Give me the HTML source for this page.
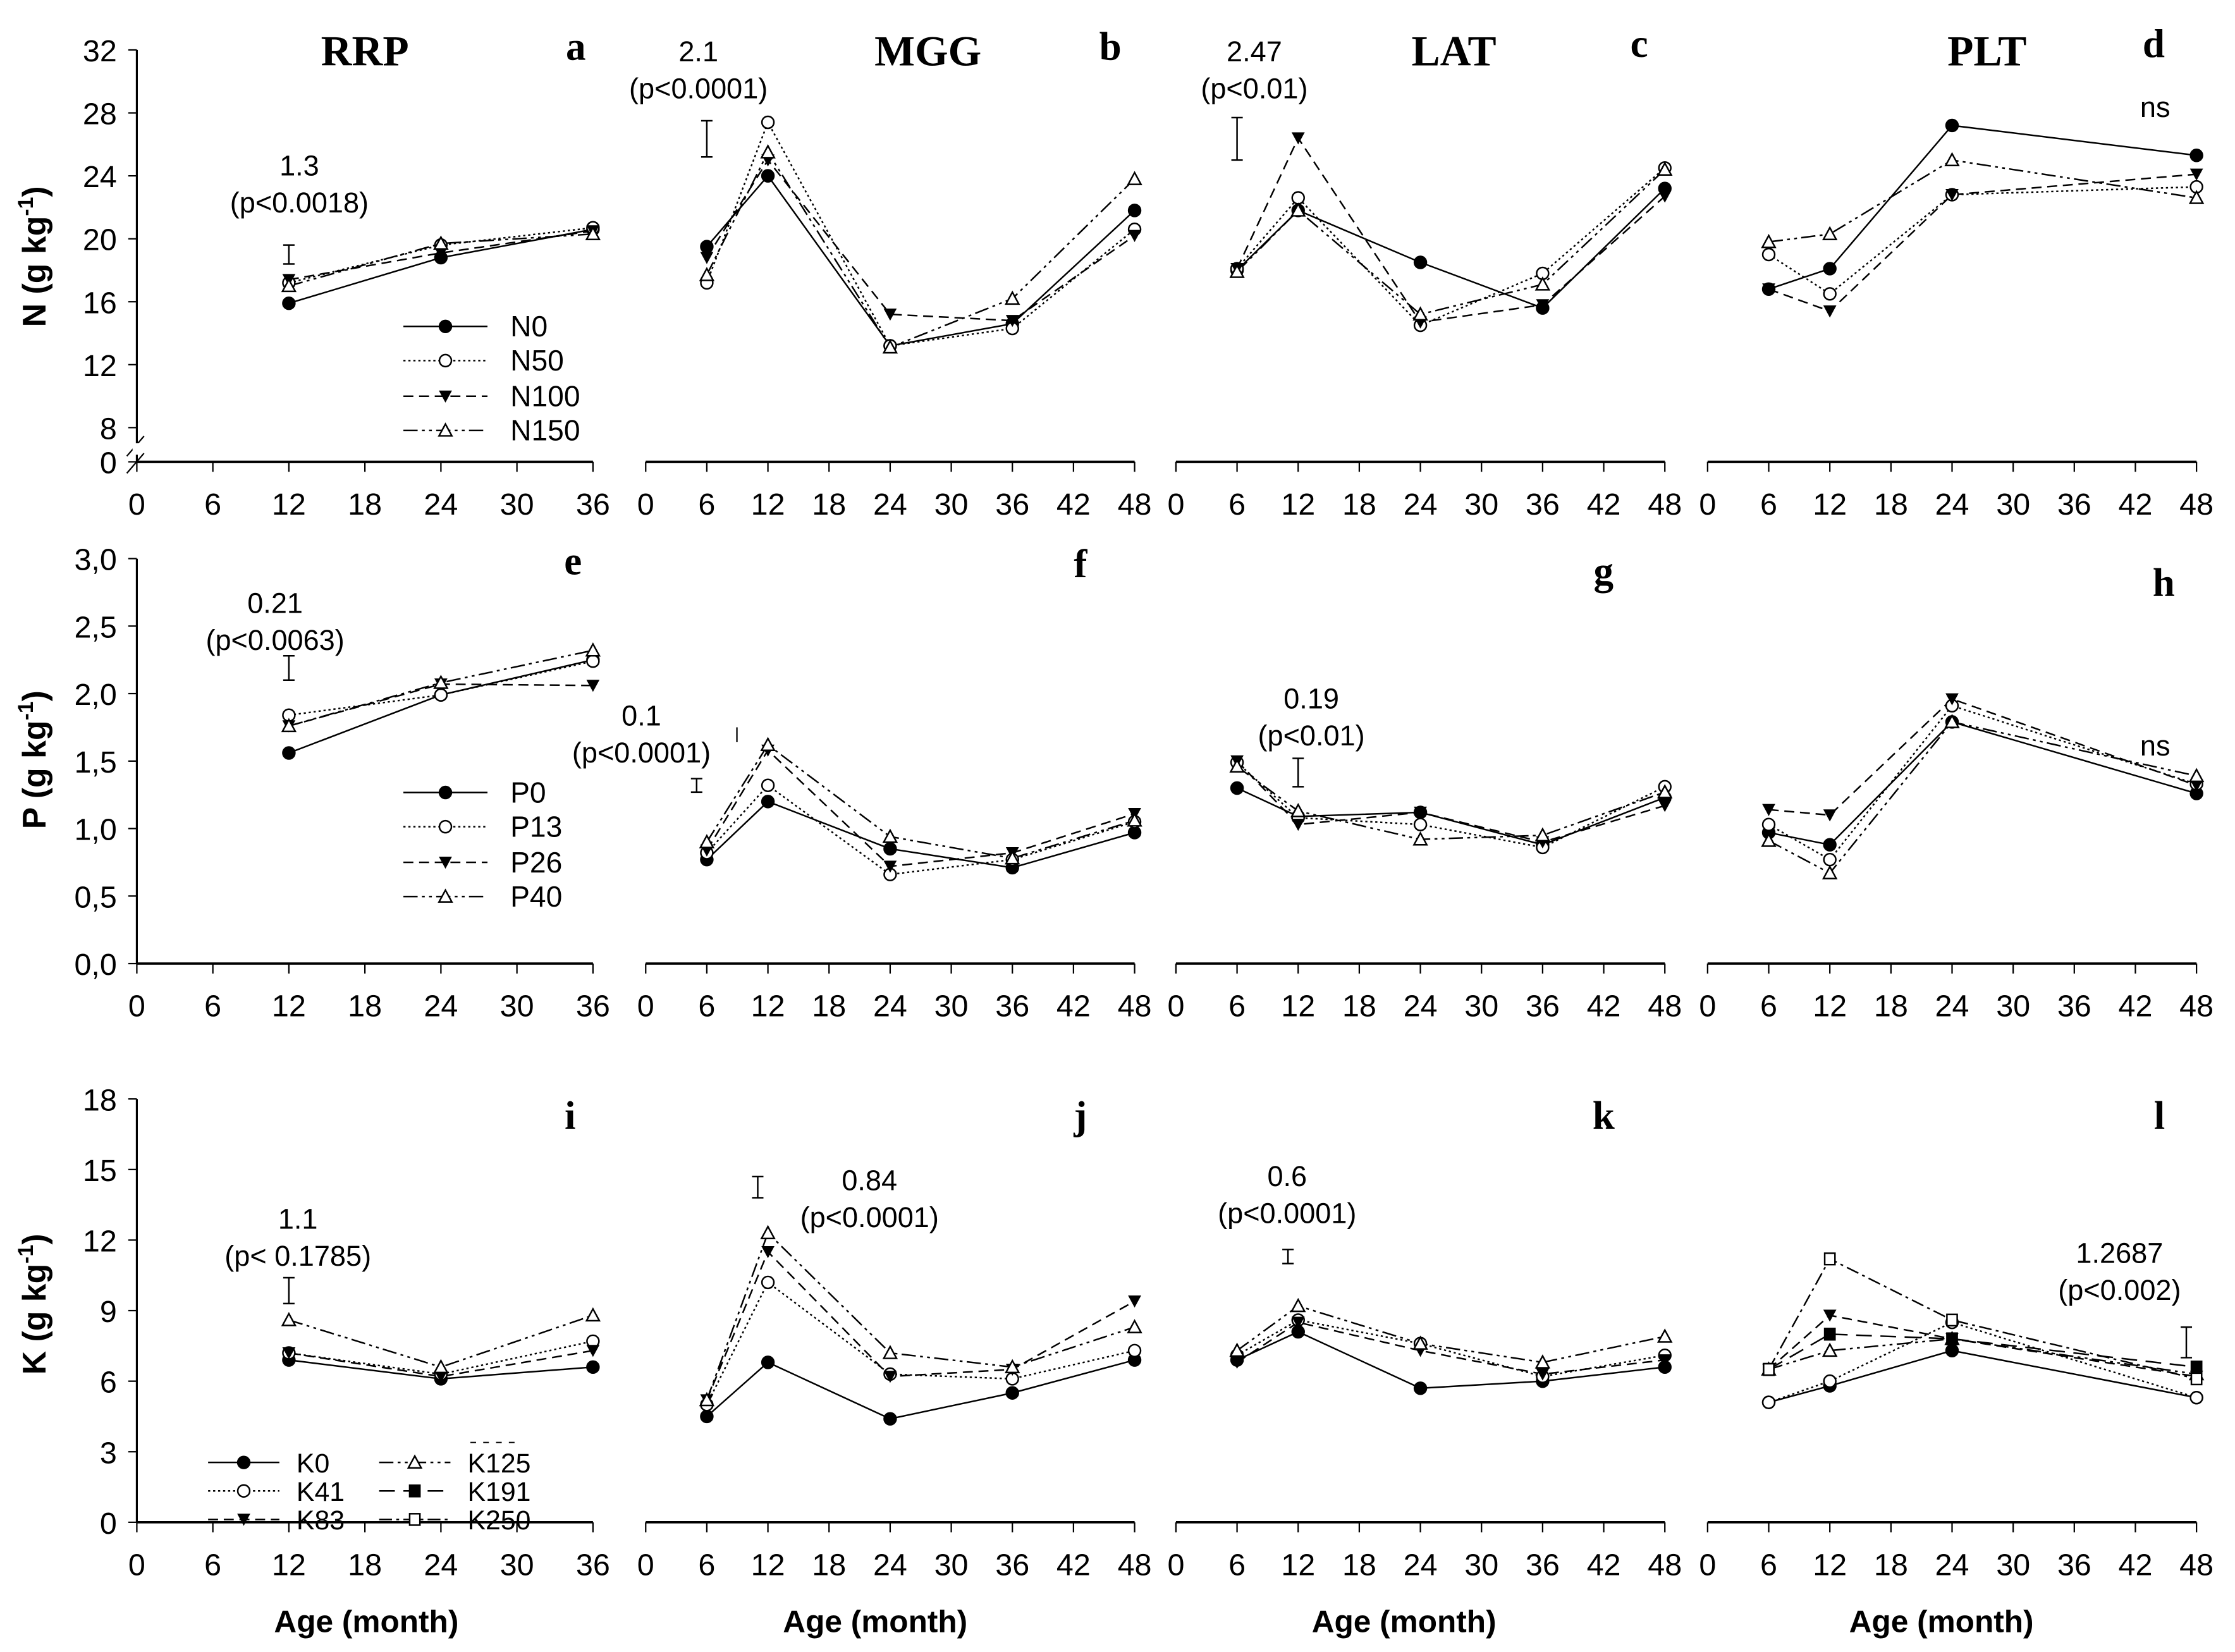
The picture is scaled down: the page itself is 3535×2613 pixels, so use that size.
<!DOCTYPE html>
<html><head><meta charset="utf-8"><style>
html,body{margin:0;padding:0;background:#fff}
svg{display:block}
text{font-family:"Liberation Sans",Arial,sans-serif;fill:#000}
.ser{font-family:"Liberation Serif",serif;font-weight:bold}
</style></head><body>
<svg id="chart" xmlns="http://www.w3.org/2000/svg" width="3535" height="2613" viewBox="0 0 1568 1159" preserveAspectRatio="none">
<g id="static">
<text x="32" y="180" font-size="23" font-weight="bold" text-anchor="middle" transform="rotate(-90 32 180)">N (g kg<tspan font-size="15" dy="-9">-1</tspan><tspan dy="9">)</tspan></text>
<text x="32" y="533" font-size="23" font-weight="bold" text-anchor="middle" transform="rotate(-90 32 533)">P (g kg<tspan font-size="15" dy="-9">-1</tspan><tspan dy="9">)</tspan></text>
<text x="32" y="915" font-size="23" font-weight="bold" text-anchor="middle" transform="rotate(-90 32 915)">K (g kg<tspan font-size="15" dy="-9">-1</tspan><tspan dy="9">)</tspan></text>
<text class="ser" x="256" y="46" font-size="30" text-anchor="middle">RRP</text>
<text class="ser" x="651" y="46" font-size="30" text-anchor="middle">MGG</text>
<text class="ser" x="1020" y="46" font-size="30" text-anchor="middle">LAT</text>
<text class="ser" x="1394" y="46" font-size="30" text-anchor="middle">PLT</text>
</g>
<g id="plots"></g>
</svg>
<script>
// ---- data ----
const monthsA = [12, 24, 36];
const monthsB = [6, 12, 24, 36, 48];
const monthsD = [6, 12, 24, 48];
const nTicks = [0, 8, 12, 16, 20, 24, 28, 32];
const pTicks = ["0,0","0,5","1,0","1,5","2,0","2,5","3,0"];
const kTicks = [0, 3, 6, 9, 12, 15, 18];
// N
const aN0=[15.9,18.8,20.6], aN50=[17.2,19.6,20.7], aN100=[17.4,19.1,20.5], aN150=[17.0,19.7,20.3];
const bN0=[19.5,24.0,13.2,14.6,21.8], bN50=[17.2,27.4,13.2,14.3,20.6], bN100=[18.8,25.0,15.2,14.8,20.2], bN150=[17.7,25.5,13.1,16.2,23.8];
const cN0=[18.0,21.8,18.5,15.6,23.2], cN50=[18.1,22.6,14.5,17.8,24.5], cN100=[18.1,26.4,14.7,15.8,22.7], cN150=[17.9,21.8,15.2,17.1,24.4];
const dN0=[16.8,18.1,27.2,25.3], dN50=[19.0,16.5,22.8,23.3], dN100=[16.8,15.4,22.8,24.1], dN150=[19.8,20.3,25.0,22.6];
// P
const eP0=[1.56,1.99,2.25], eP13=[1.84,1.99,2.24], eP26=[1.76,2.07,2.06], eP40=[1.76,2.08,2.32];
const fP0=[0.77,1.20,0.85,0.71,0.97], fP13=[0.82,1.32,0.66,0.77,1.05], fP26=[0.84,1.58,0.72,0.82,1.11], fP40=[0.90,1.62,0.94,0.78,1.06];
const gP0=[1.30,1.09,1.12,0.88,1.23], gP13=[1.49,1.08,1.03,0.86,1.31], gP26=[1.50,1.03,1.12,0.90,1.17], gP40=[1.46,1.13,0.92,0.95,1.27];
const hP0=[0.97,0.88,1.79,1.26], hP13=[1.03,0.77,1.91,1.33], hP26=[1.14,1.10,1.96,1.32], hP40=[0.91,0.67,1.79,1.39];
// K
const iK0=[6.9,6.1,6.6], iK41=[7.2,6.3,7.7], iK83=[7.2,6.2,7.3], iK125=[8.6,6.6,8.8];
const jK0=[4.5,6.8,4.4,5.5,6.9], jK41=[5.0,10.2,6.3,6.1,7.3], jK83=[5.2,11.5,6.2,6.5,9.4], jK125=[5.2,12.3,7.2,6.6,8.3];
const kK0=[6.9,8.1,5.7,6.0,6.6], kK41=[7.1,8.6,7.6,6.2,7.1], kK83=[6.8,8.5,7.3,6.3,6.9], kK125=[7.3,9.2,7.6,6.8,7.9];
const lK0=[5.1,5.8,7.3,5.3], lK41=[5.1,6.0,8.5,5.3], lK83=[6.5,8.8,7.8,6.2], lK125=[6.5,7.3,7.8,6.3], lK191=[6.5,8.0,7.8,6.6], lK250=[6.5,11.2,8.6,6.1];
// error bars [month, low, high]
const errA=[12,18.4,19.6], errB=[6,25.2,27.5], errC=[6,25.0,27.7];
const errE=[12,2.10,2.28], errF=[5,1.27,1.37], errG=[12,1.31,1.52];
const errI=[12,9.3,10.4], errJ=[11,13.8,14.7], errK=[11,11.0,11.6], errL=[47,7.0,8.3];

const NS="http://www.w3.org/2000/svg";
const root=document.getElementById('plots');
function mk(tag,attrs,parent){const e=document.createElementNS(NS,tag);for(const k in attrs)e.setAttribute(k,attrs[k]);(parent||root).appendChild(e);return e;}

const styles={
 s0:{dash:'',mk:'fcirc'}, s1:{dash:'1.5,2',mk:'ocirc'}, s2:{dash:'7,4',mk:'ftri'}, s3:{dash:'10,3,2,3,2,3',mk:'otri'},
 s4:{dash:'11,6',mk:'fsq'}, s5:{dash:'9,3,2,3',mk:'osq'}
};
const rows={
 N:{y:v=>v<8?324-v*3:300-(v-8)*11.04, axisY:324},
 P:{y:v=>676-v*94.7, axisY:676},
 K:{y:v=>1068-v*16.5, axisY:1068}
};
const cols=[{x0:96,x1:416,max:36},{x0:453,x1:796,max:48},{x0:825,x1:1168,max:48},{x0:1198,x1:1541,max:48}];

function marker(g,type,x,y){
 let e;
 if(type==='fcirc'||type==='ocirc'){e=mk('circle',{cx:x,cy:y,r:4.2,fill:type==='fcirc'?'#000':'#fff',stroke:'#000','stroke-width':1.1},g);}
 else if(type==='ftri'){e=mk('path',{d:`M${x-4.6},${y-4} L${x+4.6},${y-4} L${x},${y+4.5} Z`,fill:'#000'},g);}
 else if(type==='otri'){e=mk('path',{d:`M${x-4.5},${y+3.8} L${x+4.5},${y+3.8} L${x},${y-4.5} Z`,fill:'#fff',stroke:'#000','stroke-width':1.1},g);}
 else {e=mk('rect',{x:x-3.6,y:y-4,width:7.2,height:8,fill:type==='fsq'?'#000':'#fff',stroke:'#000','stroke-width':1.1},g);}
 
 
}

function panel(name,col,row,months,series,err,opts){
 const c=cols[col], R=rows[row];
 const xs=m=>c.x0+(m/c.max)*(c.x1-c.x0);
 const g=mk('g',{});
 
 
 const ax=mk('line',{x1:c.x0,x2:c.x1,y1:R.axisY,y2:R.axisY,stroke:'#000','stroke-width':1.6},g);
 
 
 for(let m=0;m<=c.max;m+=6){
  const t=mk('line',{x1:xs(m),x2:xs(m),y1:R.axisY,y2:R.axisY+7,stroke:'#000','stroke-width':1},g);
  
  
  const tl=mk('text',{x:xs(m),y:R.axisY+37,'font-size':21.5,'text-anchor':'middle'},g);
  tl.textContent=m;
  
  
 }
 series.forEach((vals,si)=>{
  const st=styles['s'+si];
  const pts=vals.map((v,i)=>xs(months[i])+','+R.y(v)).join(' ');
  const pl=mk('polyline',{points:pts,fill:'none',stroke:'#000','stroke-width':1.1,'stroke-dasharray':st.dash},g);
  
  
 });
 series.forEach((vals,si)=>{vals.forEach((v,i)=>marker(g,styles['s'+si].mk,xs(months[i]),R.y(v)));});
 if(err){
  const x=xs(err[0]),y1=R.y(err[1]),y2=R.y(err[2]);
  const eb=mk('path',{d:`M${x},${y1}V${y2}M${x-4},${y1}H${x+4}M${x-4},${y2}H${x+4}`,stroke:'#000','stroke-width':1.1,fill:'none'},g);
  
  
 }
 if(opts.lsd){
  const t1=mk('text',{x:opts.lsd[0],y:opts.lsd[1],'font-size':20,'text-anchor':'middle'},g);
  t1.textContent=opts.lsd[2];
  
  
  if(opts.lsd[3]){const t2=mk('text',{x:opts.lsd[0],y:opts.lsd[1]+26,'font-size':20,'text-anchor':'middle'},g);
  t2.textContent=opts.lsd[3];
  
  }
 }
 const lt=mk('text',{x:opts.letter[0],y:opts.letter[1],'font-size':28,'text-anchor':'middle',class:'ser'},g);
 lt.textContent=name;
 
 
 return g;
}

function yaxis(row,ticks,vals,top){
 const R=rows[row];
 const g=mk('g',{});
 
 
 const l=mk('line',{x1:96,x2:96,y1:top,y2:R.axisY,stroke:'#000','stroke-width':1.4},g);
 
 
 ticks.forEach((lab,i)=>{
  const y=R.y(vals[i]);
  const t=mk('line',{x1:90,x2:96,y1:y,y2:y,stroke:'#000','stroke-width':1},g);
  
  
  const tx=mk('text',{x:82,y:y+8,'font-size':21.5,'text-anchor':'end'},g);
  tx.textContent=lab;
  
  
 });
 return g;
}

yaxis('N',nTicks,nTicks,35);
const brk=mk('path',{d:'M89,320 L101,306 M89,332 L101,318',stroke:'#000','stroke-width':1,fill:'none'});


const wipe=mk('rect',{x:93,y:311,width:6,height:8,fill:'#fff'});


yaxis('P',pTicks,[0,0.5,1,1.5,2,2.5,3],392);
yaxis('K',kTicks,kTicks,771);

panel('a',0,'N',monthsA,[aN0,aN50,aN100,aN150],errA,{lsd:[210,123,'1.3','(p<0.0018)'],letter:[404,42]});
panel('b',1,'N',monthsB,[bN0,bN50,bN100,bN150],errB,{lsd:[490,43,'2.1','(p<0.0001)'],letter:[779,42]});
panel('c',2,'N',monthsB,[cN0,cN50,cN100,cN150],errC,{lsd:[880,43,'2.47','(p<0.01)'],letter:[1150,40]});
panel('d',3,'N',monthsD,[dN0,dN50,dN100,dN150],null,{lsd:[1512,82,'ns'],letter:[1511,40]});
panel('e',0,'P',monthsA,[eP0,eP13,eP26,eP40],errE,{lsd:[193,430,'0.21','(p<0.0063)'],letter:[402,403]});
panel('f',1,'P',monthsB,[fP0,fP13,fP26,fP40],errF,{lsd:[450,509,'0.1','(p<0.0001)'],letter:[758,405]});
panel('g',2,'P',monthsB,[gP0,gP13,gP26,gP40],errG,{lsd:[920,497,'0.19','(p<0.01)'],letter:[1125,410]});
panel('h',3,'P',monthsD,[hP0,hP13,hP26,hP40],null,{lsd:[1512,530,'ns'],letter:[1518,418]});
panel('i',0,'K',monthsA,[iK0,iK41,iK83,iK125],errI,{lsd:[209,862,'1.1','(p< 0.1785)'],letter:[400,792]});
panel('j',1,'K',monthsB,[jK0,jK41,jK83,jK125],errJ,{lsd:[610,835,'0.84','(p<0.0001)'],letter:[758,792]});
panel('k',2,'K',monthsB,[kK0,kK41,kK83,kK125],errK,{lsd:[903,832,'0.6','(p<0.0001)'],letter:[1125,792]});
panel('l',3,'K',monthsD,[lK0,lK41,lK83,lK125,lK191,lK250],errL,{lsd:[1487,886,'1.2687','(p<0.002)'],letter:[1515,792]});

const stray=mk('line',{x1:517,x2:517,y1:rows.P.y(1.75),y2:rows.P.y(1.64),stroke:'#000','stroke-width':1});



[257,614,985,1362].forEach(x=>{
 const t=mk('text',{x:x,y:1145,'font-size':22,'font-weight':'bold','text-anchor':'middle'});
 t.textContent='Age (month)';
 
 
});

function legend(items,x,w,ys,labx,styleIdx,fs){
 const g=mk('g',{});
 
 
 items.forEach((lab,i)=>{
  const st=styles['s'+styleIdx[i]], y=ys[i];
  const ln=mk('line',{x1:x,x2:x+w,y1:y,y2:y,stroke:'#000','stroke-width':1.1,'stroke-dasharray':st.dash},g);
  
  
  marker(g,st.mk,x+w/2,y);
  const t=mk('text',{x:labx,y:y+7,'font-size':fs},g);
  t.textContent=lab;
  
  
 });
}
legend(['N0','N50','N100','N150'],283,59,[229,253,278,302],358,[0,1,2,3],20.5);
legend(['P0','P13','P26','P40'],283,59,[556,580,605,629],358,[0,1,2,3],20.5);
legend(['K0','K41','K83'],146,50,[1026,1046,1066],208,[0,1,2],19);
legend(['K125','K191','K250'],266,50,[1026,1046,1066],328,[3,4,5],19);
const sd=mk('line',{x1:330,x2:362,y1:1012,y2:1012,stroke:'#000','stroke-width':0.8,'stroke-dasharray':'4,5'});


</script>
</body></html>
